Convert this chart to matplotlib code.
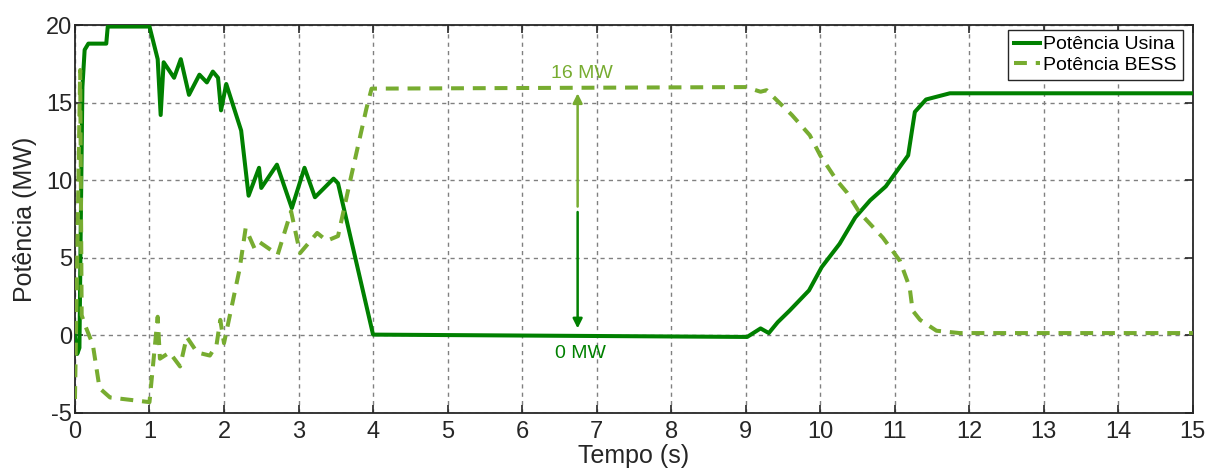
import matplotlib
matplotlib.use("Agg")
import matplotlib.pyplot as plt

plt.rcParams['font.family'] = ['Liberation Sans', 'DejaVu Sans']
plt.rcParams['axes.unicode_minus'] = False

# Potência da usina (MW) ao longo do tempo (s)
t_usina = [0.0, 0.03, 0.06, 0.08, 0.10, 0.13, 0.18, 0.42, 0.44, 1.0,
           1.11, 1.15, 1.19, 1.33, 1.42, 1.53, 1.67, 1.77, 1.85, 1.92,
           1.96, 2.03, 2.23, 2.33, 2.47, 2.50, 2.71, 2.91, 3.08, 3.22,
           3.47, 3.53, 4.0, 9.02, 9.20, 9.31, 9.43, 9.59, 9.85, 10.02,
           10.26, 10.47, 10.67, 10.88, 11.18, 11.27, 11.42, 11.74, 15.0]
p_usina = [0.0, -1.2, -0.8, 8.0, 16.0, 18.4, 18.8, 18.8, 19.9, 19.9,
           17.8, 14.2, 17.6, 16.6, 17.8, 15.5, 16.8, 16.3, 17.0, 16.6,
           14.5, 16.2, 13.2, 9.0, 10.8, 9.5, 11.0, 8.2, 10.8, 8.9,
           10.1, 9.8, 0.05, -0.1, 0.45, 0.15, 0.85, 1.6, 2.9, 4.4,
           5.9, 7.6, 8.7, 9.6, 11.6, 14.4, 15.2, 15.6, 15.6]

# Potência do BESS (MW)
t_bess = [0.0, 0.04, 0.07, 0.09, 0.14, 0.24, 0.33, 0.47, 1.0, 1.11,
          1.14, 1.27, 1.41, 1.50, 1.64, 1.81, 1.90, 1.95, 2.0, 2.21,
          2.29, 2.41, 2.48, 2.72, 2.90, 3.02, 3.25, 3.38, 3.53, 3.69,
          3.91, 3.98, 9.0, 9.20, 9.28, 9.62, 9.86, 10.0, 10.22, 10.36,
          10.53, 10.84, 11.07, 11.20, 11.24, 11.34, 11.56, 11.87, 15.0]
p_bess = [-4.1, 8.0, 17.1, 1.3, 0.6, -0.6, -3.4, -4.0, -4.3, 1.2,
          -1.5, -1.1, -2.0, -0.1, -1.1, -1.3, -0.6, 1.0, -0.5, 4.3,
          6.9, 5.6, 6.0, 5.2, 8.0, 5.3, 6.6, 6.1, 6.4, 9.9,
          14.6, 15.9, 16.0, 15.7, 15.8, 14.2, 12.9, 11.6, 10.0, 9.2,
          7.9, 6.3, 4.8, 3.1, 1.6, 1.0, 0.3, 0.15, 0.15]

cor_usina = '#008000'
cor_bess = '#77AC30'
cor_eixo = '#262626'

fig = plt.figure(figsize=(12.11, 4.70), dpi=100)
ax = fig.add_axes([0.0619, 0.1213, 0.9231, 0.8255])

ax.plot(t_usina, p_usina, color=cor_usina, lw=2.9, label='Potência Usina', zorder=3)
ax.plot(t_bess, p_bess, color=cor_bess, lw=2.9, ls=(0, (3.2, 2.2)), label='Potência BESS', zorder=3)

# setas indicando a variação de potência
ax.annotate('', xy=(6.745, 15.6), xytext=(6.745, 8.3),
            arrowprops=dict(arrowstyle='-|>', color=cor_bess, lw=1.8, mutation_scale=14, shrinkA=0, shrinkB=0))
ax.annotate('', xy=(6.745, 0.45), xytext=(6.745, 7.95),
            arrowprops=dict(arrowstyle='-|>', color=cor_usina, lw=1.8, mutation_scale=14, shrinkA=0, shrinkB=0))
ax.text(6.8, 16.9, '16 MW', color=cor_bess, fontsize=14, ha='center', va='center')
ax.text(6.78, -1.15, '0 MW', color=cor_usina, fontsize=14, ha='center', va='center')

ax.set_xlim(0, 15)
ax.set_ylim(-5, 20)
ax.set_xticks(range(0, 16))
ax.set_yticks([-5, 0, 5, 10, 15, 20])
ax.tick_params(direction='in', top=True, right=True, length=6, width=1.2, labelsize=17, colors=cor_eixo)
ax.tick_params(axis='x', pad=6)
ax.tick_params(axis='y', pad=2)
ax.grid(True, ls=(0, (3, 3)), color='#808080', lw=1.0)
for s in ax.spines.values():
    s.set_linewidth(1.3)
    s.set_color(cor_eixo)

ax.set_xlabel('Tempo (s)', fontsize=18, color=cor_eixo)
ax.xaxis.set_label_coords(0.5, -0.079)
ax.set_ylabel('Potência (MW)', fontsize=18, color=cor_eixo)
ax.yaxis.set_label_coords(-0.034, 0.5)

leg = ax.legend(loc='upper right', bbox_to_anchor=(0.991, 0.987), borderaxespad=0,
                fontsize=14, handlelength=1.3, handletextpad=0.2, borderpad=0.3,
                labelspacing=0.15, fancybox=False, framealpha=1, edgecolor=cor_eixo)
leg.get_frame().set_linewidth(1.0)

fig.savefig('out.png', dpi=100)
